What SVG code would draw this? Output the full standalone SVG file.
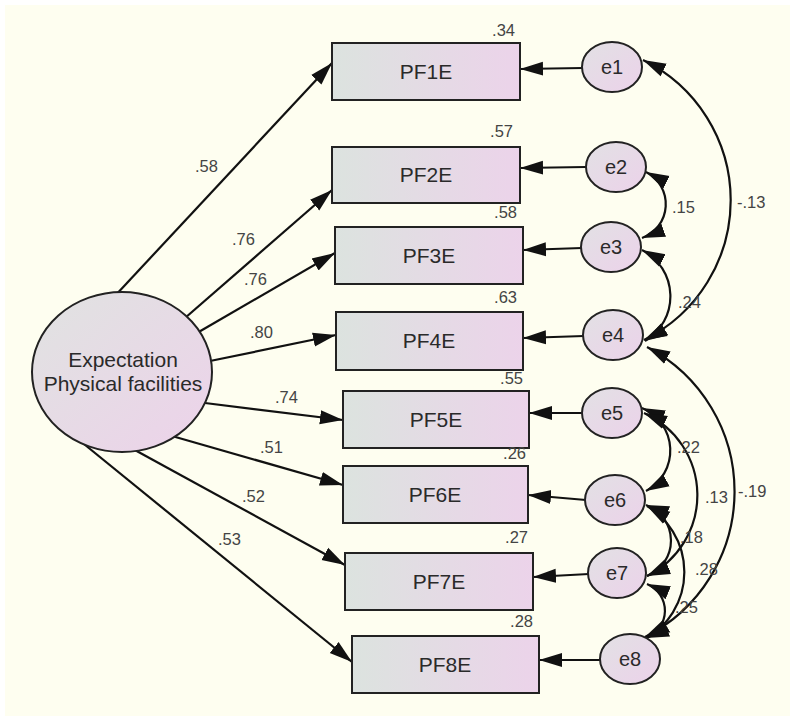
<svg xmlns="http://www.w3.org/2000/svg" width="790" height="716" viewBox="0 0 790 716">
  <style>
    .box { stroke: #222; stroke-width: 2; fill: url(#boxFill); }
    .err { stroke: #222; stroke-width: 2; fill: url(#errFill); }
    .lat { stroke: #222; stroke-width: 2; fill: url(#latFill); }
    .lbl { font-family: "Liberation Sans", Arial, sans-serif; font-size: 21px; fill: #2a2a2a; text-anchor: middle; }
    .flbl { font-family: "Liberation Sans", Arial, sans-serif; font-size: 21px; fill: #2a2a2a; text-anchor: middle; }
    .elbl { font-family: "Liberation Sans", Arial, sans-serif; font-size: 20px; fill: #2a2a2a; text-anchor: middle; }
    .num { font-family: "Liberation Sans", Arial, sans-serif; font-size: 16.5px; fill: #444; }
    .r2 { font-family: "Liberation Sans", Arial, sans-serif; font-size: 16.5px; fill: #444; text-anchor: end; }
    .path { stroke: #111; stroke-width: 2.2; fill: none; marker-end: url(#head); }
    .cov { stroke: #111; stroke-width: 2.2; fill: none; marker-start: url(#head); marker-end: url(#head); }
  </style>
  <defs>
    <linearGradient id="boxFill" x1="0" y1="0" x2="1" y2="0">
      <stop offset="0" stop-color="#dce3df"/>
      <stop offset="1" stop-color="#ecd3ea"/>
    </linearGradient>
    <linearGradient id="errFill" x1="0" y1="0" x2="1" y2="1">
      <stop offset="0" stop-color="#e2e1e4"/>
      <stop offset="1" stop-color="#ecd2ea"/>
    </linearGradient>
    <linearGradient id="latFill" x1="0" y1="0" x2="1" y2="1">
      <stop offset="0" stop-color="#e0e3e1"/>
      <stop offset="1" stop-color="#edd2ea"/>
    </linearGradient>
    <marker id="head" markerUnits="userSpaceOnUse" markerWidth="24" markerHeight="16" refX="23" refY="8" orient="auto-start-reverse">
      <path d="M0,1 L23,8 L0,15 Z" fill="#111"/>
    </marker>
  </defs>

  <!-- canvas -->
  <rect x="0" y="0" width="790" height="716" fill="#ffffff"/>
  <rect x="5" y="5" width="785" height="711" fill="#fefef0"/>

  <!-- connectors: loadings, error paths, covariances -->
  <g id="connectors">
    <line class="path" x1="113" y1="298" x2="332" y2="63"/>
    <line class="path" x1="185" y1="318" x2="332" y2="190"/>
    <line class="path" x1="197" y1="333" x2="335" y2="253"/>
    <line class="path" x1="210" y1="361" x2="336" y2="335"/>
    <line class="path" x1="205" y1="403" x2="343" y2="420"/>
    <line class="path" x1="172" y1="436" x2="343" y2="485"/>
    <line class="path" x1="133" y1="449" x2="345" y2="565"/>
    <line class="path" x1="79" y1="440" x2="352" y2="662"/>

    <line class="path" x1="583" y1="68" x2="520" y2="69"/>
    <line class="path" x1="586" y1="167" x2="520" y2="168"/>
    <line class="path" x1="582" y1="248" x2="523" y2="250"/>
    <line class="path" x1="584" y1="336" x2="523" y2="338"/>
    <line class="path" x1="583" y1="413" x2="529" y2="413"/>
    <line class="path" x1="586" y1="500" x2="528" y2="495"/>
    <line class="path" x1="589" y1="574" x2="533" y2="577"/>
    <line class="path" x1="600" y1="660" x2="539" y2="660"/>

    <path class="cov" d="M643,60 A156,156 0 0,1 644,340"/>
    <path class="cov" d="M646,172 A36,36 0 0,1 642,238"/>
    <path class="cov" d="M642,250 A52,52 0 0,1 645,341"/>
    <path class="cov" d="M647,347 A163,163 0 0,1 645,637"/>
    <path class="cov" d="M642,408 A46,46 0 0,1 646,491"/>
    <path class="cov" d="M644,413 A90,90 0 0,1 647,576"/>
    <path class="cov" d="M646,505 A38,38 0 0,1 647,576"/>
    <path class="cov" d="M647,506 A77,77 0 0,1 647,638"/>
    <path class="cov" d="M647,584 A29,29 0 0,1 646,638"/>
  </g>

  <!-- latent factor -->
  <g id="factor">
    <ellipse class="lat" cx="122" cy="372" rx="90" ry="80"/>
    <text class="flbl" x="123" y="367">Expectation</text>
    <text class="flbl" x="123" y="391">Physical facilities</text>
  </g>

  <!-- observed indicators -->
  <g id="PF1E"><rect class="box" x="332" y="43" width="188" height="57"/><text class="lbl" x="426" y="79">PF1E</text></g>
  <g id="PF2E"><rect class="box" x="332" y="147" width="188" height="56"/><text class="lbl" x="426" y="182">PF2E</text></g>
  <g id="PF3E"><rect class="box" x="335" y="227" width="188" height="57"/><text class="lbl" x="429" y="263">PF3E</text></g>
  <g id="PF4E"><rect class="box" x="336" y="312" width="187" height="58"/><text class="lbl" x="429" y="348">PF4E</text></g>
  <g id="PF5E"><rect class="box" x="343" y="391" width="186" height="57"/><text class="lbl" x="436" y="427">PF5E</text></g>
  <g id="PF6E"><rect class="box" x="343" y="466" width="185" height="57"/><text class="lbl" x="435" y="502">PF6E</text></g>
  <g id="PF7E"><rect class="box" x="345" y="553" width="188" height="57"/><text class="lbl" x="439" y="589">PF7E</text></g>
  <g id="PF8E"><rect class="box" x="352" y="636" width="187" height="57"/><text class="lbl" x="445" y="672">PF8E</text></g>

  <!-- error terms -->
  <g id="e1"><ellipse class="err" cx="612" cy="67" rx="30" ry="25"/><text class="elbl" x="612" y="74">e1</text></g>
  <g id="e2"><ellipse class="err" cx="616" cy="167" rx="30" ry="25"/><text class="elbl" x="616" y="174">e2</text></g>
  <g id="e3"><ellipse class="err" cx="611" cy="247" rx="30" ry="25"/><text class="elbl" x="611" y="254">e3</text></g>
  <g id="e4"><ellipse class="err" cx="613" cy="335" rx="30" ry="25"/><text class="elbl" x="613" y="342">e4</text></g>
  <g id="e5"><ellipse class="err" cx="612" cy="413" rx="30" ry="25"/><text class="elbl" x="612" y="420">e5</text></g>
  <g id="e6"><ellipse class="err" cx="615" cy="500" rx="30" ry="25"/><text class="elbl" x="615" y="507">e6</text></g>
  <g id="e7"><ellipse class="err" cx="617" cy="573" rx="29" ry="25"/><text class="elbl" x="617" y="580">e7</text></g>
  <g id="e8"><ellipse class="err" cx="630" cy="659" rx="30" ry="25"/><text class="elbl" x="630" y="666">e8</text></g>

  <!-- squared multiple correlations -->
  <g id="r2">
    <text class="r2" x="515" y="36">.34</text>
    <text class="r2" x="513" y="137">.57</text>
    <text class="r2" x="517" y="218">.58</text>
    <text class="r2" x="517" y="303">.63</text>
    <text class="r2" x="523" y="384">.55</text>
    <text class="r2" x="526" y="459">.26</text>
    <text class="r2" x="528" y="543">.27</text>
    <text class="r2" x="533" y="627">.28</text>
  </g>

  <!-- standardized loadings -->
  <g id="loadings">
    <text class="num" x="195" y="172">.58</text>
    <text class="num" x="232" y="245">.76</text>
    <text class="num" x="244" y="285">.76</text>
    <text class="num" x="250" y="338">.80</text>
    <text class="num" x="275" y="403">.74</text>
    <text class="num" x="260" y="453">.51</text>
    <text class="num" x="242" y="502">.52</text>
    <text class="num" x="218" y="545">.53</text>
  </g>

  <!-- error correlations -->
  <g id="correlations">
    <text class="num" x="672" y="213">.15</text>
    <text class="num" x="737" y="208">-.13</text>
    <text class="num" x="678" y="308">.24</text>
    <text class="num" x="677" y="453">.22</text>
    <text class="num" x="705" y="503">.13</text>
    <text class="num" x="738" y="497">-.19</text>
    <text class="num" x="680" y="543">.18</text>
    <text class="num" x="695" y="575">.28</text>
    <text class="num" x="675" y="613">.25</text>
  </g>
</svg>
